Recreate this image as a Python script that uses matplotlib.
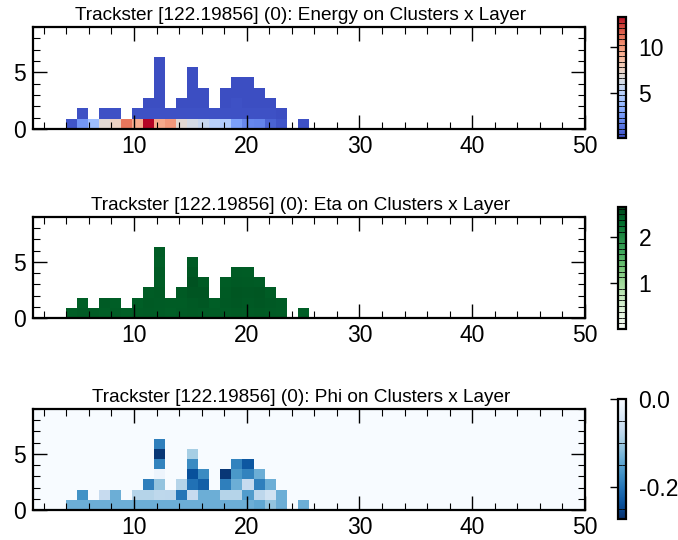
#!/usr/bin/env python3
"""Trackster cluster maps: energy / eta / phi per cluster, stacked per layer."""
import numpy as np
import matplotlib
matplotlib.use('Agg')
import matplotlib.pyplot as plt
from matplotlib.ticker import MultipleLocator, FixedLocator

plt.rcParams['font.family'] = ['Liberation Sans', 'DejaVu Sans']

W, H = 678, 540

TRACKSTER = 'Trackster [122.19856] (0)'

# layers that hold at least one cluster
LAYERS = [4, 5, 6, 7, 8, 9, 10, 11, 12, 13, 14, 15, 16, 17, 18, 19, 20, 21,
          22, 23, 25]

# per layer: cluster values, bottom cell first
ENERGY = [
    [0.5],
    [2.5, 0.4],
    [4.1],
    [7.0, 0.4],
    [7.6, 0.4],
    [11.0],
    [9.3, 0.4],
    [13.2, 0.4, 0.3],
    [9.4, 0.4, 0.3, 0.3, 0.3, 0.3, 0.3],
    [10.0, 0.4],
    [7.1, 0.4, 0.3],
    [6.3, 0.4, 0.3, 0.3, 0.3, 0.3],
    [5.7, 0.4, 0.3, 0.3],
    [5.1, 0.4],
    [4.8, 0.4, 0.3, 0.3],
    [2.8, 0.4, 0.4, 0.3, 0.3],
    [2.0, 0.4, 0.3, 0.3, 0.3],
    [1.9, 0.4, 0.3, 0.3],
    [0.9, 0.4, 0.3],
    [0.5, 0.3],
    [0.4],
]

ETA = [
    [2.45],
    [2.47, 2.44],
    [2.46],
    [2.45, 2.47],
    [2.46, 2.45],
    [2.44],
    [2.46, 2.45],
    [2.47, 2.48, 2.46],
    [2.46, 2.47, 2.48, 2.46, 2.47, 2.45, 2.46],
    [2.45, 2.46],
    [2.47, 2.46, 2.48],
    [2.48, 2.49, 2.52, 2.54, 2.50, 2.47],
    [2.47, 2.50, 2.52, 2.48],
    [2.46, 2.45],
    [2.47, 2.49, 2.48, 2.46],
    [2.48, 2.50, 2.51, 2.49, 2.47],
    [2.47, 2.49, 2.50, 2.48, 2.46],
    [2.48, 2.50, 2.51, 2.47],
    [2.47, 2.49, 2.46],
    [2.46, 2.47],
    [2.45],
]

PHI = [
    [-0.136],
    [-0.136, -0.169],
    [-0.136],
    [-0.136, -0.068],
    [-0.136, -0.136],
    [-0.136],
    [-0.136, -0.082],
    [-0.136, -0.082, -0.190],
    [-0.136, -0.075, -0.109, -0.014, -0.185, -0.264, -0.190],
    [-0.136, -0.076],
    [-0.136, -0.199, -0.082],
    [-0.136, -0.068, -0.204, -0.239, -0.177, -0.095],
    [-0.136, -0.136, -0.223, -0.177],
    [-0.136, -0.136],
    [-0.136, -0.082, -0.190, -0.264],
    [-0.136, -0.082, -0.136, -0.163, -0.185],
    [-0.136, -0.158, -0.068, -0.185, -0.231],
    [-0.145, -0.076, -0.190, -0.136],
    [-0.109, -0.054, -0.136],
    [-0.136, -0.136],
    [-0.136],
]

# colour scale ranges and ticks
ENERGY_RANGE = (0.2, 13.2)
ETA_RANGE = (0.0, 2.66)
PHI_RANGE = (-0.272, 0.0)
ENERGY_TICKS = [5, 10]
ETA_TICKS = [1, 2]
PHI_TICKS = [-0.2, 0.0]

# histogram binning: 50 layer bins over 1..50, 11 cluster bins over 0..10
X_RANGE, X_BINS = (1, 50), 50
Y_RANGE, Y_BINS = (0, 10), 11

C_INK = '#000000'


def px(left, top, right, bottom):
    return [left / W, 1 - bottom / H, (right - left) / W, (bottom - top) / H]


def build_grid(cells):
    grid = np.full((Y_BINS, X_BINS), np.nan)
    for layer, col in zip(LAYERS, cells):
        grid[:len(col), layer - 1] = col
    return np.ma.masked_invalid(grid)


def style_axis(ax):
    for side in ax.spines.values():
        side.set_linewidth(1.6)
    ax.set_xlim(1, 50)
    ax.set_ylim(0, 9)
    ax.xaxis.set_major_locator(MultipleLocator(10))
    ax.xaxis.set_minor_locator(MultipleLocator(2))
    ax.yaxis.set_major_locator(MultipleLocator(5))
    ax.yaxis.set_minor_locator(MultipleLocator(1))
    ax.tick_params(which='both', direction='in', top=True, right=True,
                   labelsize=16.5, colors=C_INK)
    ax.tick_params(which='major', length=10, width=1.0)
    ax.tick_params(which='minor', length=5, width=0.8)
    ax.tick_params(axis='x', pad=4)
    ax.tick_params(axis='y', pad=5)


def style_cbar(cbar, ticks, minor):
    cax = cbar.ax
    cbar.outline.set_linewidth(1.6)
    cax.yaxis.set_major_locator(FixedLocator(ticks))
    cax.yaxis.set_minor_locator(MultipleLocator(minor))
    cax.tick_params(which='major', direction='out', left=True, right=False,
                    labelleft=False, labelright=True, length=6, width=1.0,
                    labelsize=16.5, pad=3)
    cax.tick_params(which='minor', direction='in', left=True, right=True,
                    length=3, width=0.6)


def panel(fig, ax_box, cb_box, cells, cmap, vrange, facecolor, name,
          ticks, minor, fmt=None):
    ax = fig.add_axes(px(*ax_box))
    ax.set_facecolor(facecolor)
    grid = build_grid(cells)
    xedges = np.linspace(*X_RANGE, X_BINS + 1)
    yedges = np.linspace(*Y_RANGE, Y_BINS + 1)
    mesh = ax.pcolormesh(xedges, yedges, grid, cmap=cmap,
                         vmin=vrange[0], vmax=vrange[1], linewidth=0)
    style_axis(ax)
    ax.set_title(f'{TRACKSTER}: {name} on Clusters x Layer', fontsize=13.7,
                 color=C_INK, pad=5, x=0.486)
    cax = fig.add_axes(px(*cb_box))
    cbar = fig.colorbar(mesh, cax=cax, format=fmt)
    style_cbar(cbar, ticks, minor)
    return ax


fig = plt.figure(figsize=(W / 100, H / 100), dpi=100)
fig.patch.set_facecolor('white')

panel(fig, (32.5, 27, 585, 129), (618, 17, 626, 138), ENERGY, 'coolwarm',
      ENERGY_RANGE, 'white', 'Energy', ENERGY_TICKS, 0.6)
panel(fig, (32.5, 217, 585, 318), (618, 207, 626, 329), ETA, 'Greens',
      ETA_RANGE, 'white', 'Eta', ETA_TICKS, 0.125)
panel(fig, (32.5, 409, 585, 510), (618, 399, 626, 519), PHI, 'Blues_r',
      PHI_RANGE, plt.get_cmap('Blues_r')(1.0), 'Phi', PHI_TICKS, 0.05,
      fmt='%.1f')

fig.savefig('out.png', dpi=100, facecolor='white')
